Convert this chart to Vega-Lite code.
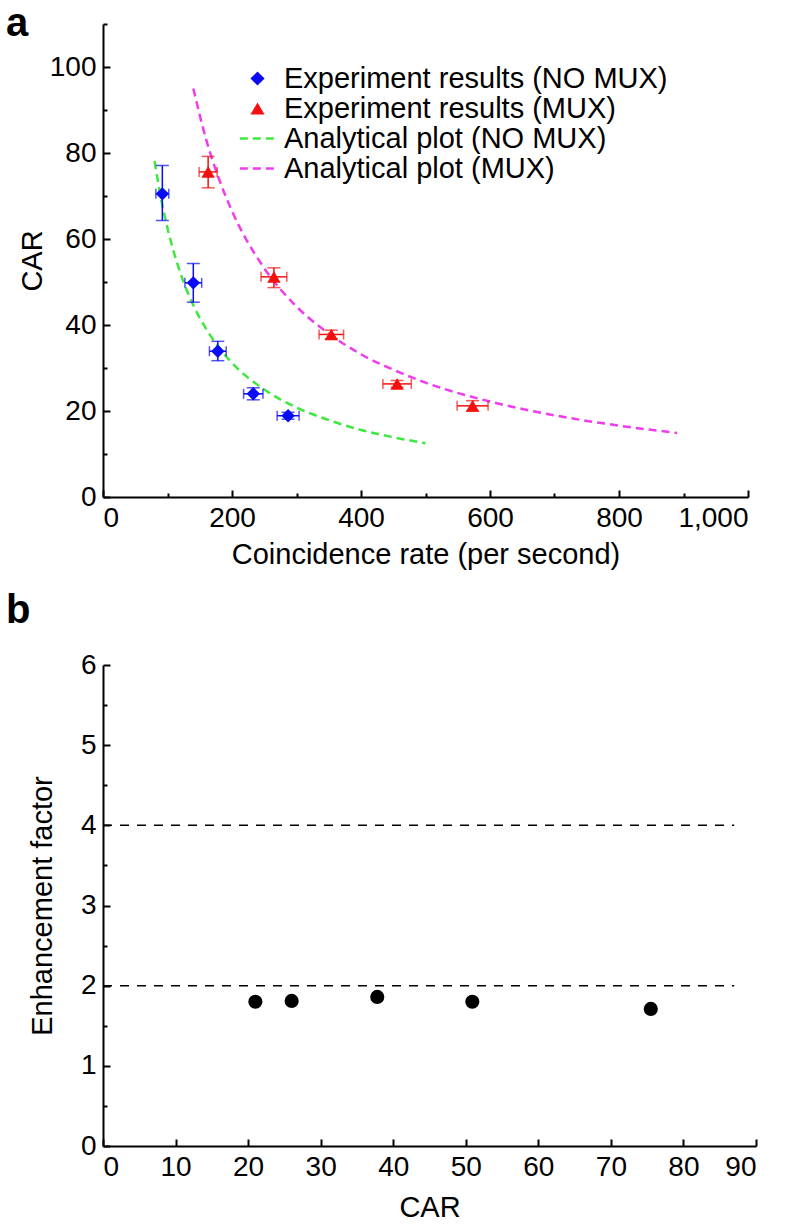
{
  "$schema": "https://vega.github.io/schema/vega-lite/v6.json",
  "background": "white",
  "padding": {"left": 6, "top": 4, "right": 5, "bottom": 5},
  "spacing": 22,
  "config": {
    "view": {"stroke": null},
    "font": "Liberation Sans",
    "axis": {
      "grid": false,
      "domainColor": "black",
      "domainWidth": 2,
      "tickColor": "black",
      "tickWidth": 2,
      "labelFont": "Liberation Sans",
      "labelFontSize": 28,
      "labelColor": "black",
      "titleFont": "Liberation Sans",
      "titleFontSize": 29,
      "titleFontWeight": "normal",
      "titleColor": "black"
    },
    "title": {"font": "Liberation Sans", "fontWeight": "bold", "fontSize": 40, "color": "black", "anchor": "start", "frame": "group"}
  },
  "datasets": {
    "curves": [
      {"series": "Analytical plot (NO MUX)", "rate": 80, "car": 78.1},
      {"series": "Analytical plot (NO MUX)", "rate": 90, "car": 69.4},
      {"series": "Analytical plot (NO MUX)", "rate": 100, "car": 62.5},
      {"series": "Analytical plot (NO MUX)", "rate": 120, "car": 52.1},
      {"series": "Analytical plot (NO MUX)", "rate": 140, "car": 44.6},
      {"series": "Analytical plot (NO MUX)", "rate": 160, "car": 39.1},
      {"series": "Analytical plot (NO MUX)", "rate": 180, "car": 34.7},
      {"series": "Analytical plot (NO MUX)", "rate": 200, "car": 31.2},
      {"series": "Analytical plot (NO MUX)", "rate": 250, "car": 25.0},
      {"series": "Analytical plot (NO MUX)", "rate": 300, "car": 20.8},
      {"series": "Analytical plot (NO MUX)", "rate": 350, "car": 17.9},
      {"series": "Analytical plot (NO MUX)", "rate": 400, "car": 15.6},
      {"series": "Analytical plot (NO MUX)", "rate": 450, "car": 13.9},
      {"series": "Analytical plot (NO MUX)", "rate": 500, "car": 12.5},
      {"series": "Analytical plot (MUX)", "rate": 140, "car": 95.0},
      {"series": "Analytical plot (MUX)", "rate": 160, "car": 83.1},
      {"series": "Analytical plot (MUX)", "rate": 180, "car": 73.9},
      {"series": "Analytical plot (MUX)", "rate": 200, "car": 66.5},
      {"series": "Analytical plot (MUX)", "rate": 250, "car": 53.2},
      {"series": "Analytical plot (MUX)", "rate": 300, "car": 44.3},
      {"series": "Analytical plot (MUX)", "rate": 350, "car": 38.0},
      {"series": "Analytical plot (MUX)", "rate": 400, "car": 33.2},
      {"series": "Analytical plot (MUX)", "rate": 450, "car": 29.6},
      {"series": "Analytical plot (MUX)", "rate": 500, "car": 26.6},
      {"series": "Analytical plot (MUX)", "rate": 600, "car": 22.2},
      {"series": "Analytical plot (MUX)", "rate": 700, "car": 19.0},
      {"series": "Analytical plot (MUX)", "rate": 800, "car": 16.6},
      {"series": "Analytical plot (MUX)", "rate": 890, "car": 14.9}
    ],
    "experiments": [
      {"series": "Experiment results (NO MUX)", "rate": 92, "car": 70.5, "rlo": 82, "rhi": 102, "clo": 64.3, "chi": 77.1},
      {"series": "Experiment results (NO MUX)", "rate": 140, "car": 49.8, "rlo": 127, "rhi": 153, "clo": 45.3, "chi": 54.3},
      {"series": "Experiment results (NO MUX)", "rate": 178, "car": 33.9, "rlo": 165, "rhi": 191, "clo": 31.7, "chi": 36.2},
      {"series": "Experiment results (NO MUX)", "rate": 233, "car": 24.0, "rlo": 218, "rhi": 248, "clo": 22.6, "chi": 25.4},
      {"series": "Experiment results (NO MUX)", "rate": 287, "car": 18.9, "rlo": 270, "rhi": 304, "clo": 18.1, "chi": 19.7},
      {"series": "Experiment results (MUX)", "rate": 163, "car": 75.6, "rlo": 149, "rhi": 177, "clo": 71.9, "chi": 79.2},
      {"series": "Experiment results (MUX)", "rate": 265, "car": 51.2, "rlo": 245, "rhi": 285, "clo": 48.7, "chi": 53.3},
      {"series": "Experiment results (MUX)", "rate": 354, "car": 37.8, "rlo": 335, "rhi": 373, "clo": 36.8, "chi": 38.8},
      {"series": "Experiment results (MUX)", "rate": 456, "car": 26.3, "rlo": 434, "rhi": 478, "clo": 25.5, "chi": 27.1},
      {"series": "Experiment results (MUX)", "rate": 573, "car": 21.2, "rlo": 549, "rhi": 597, "clo": 20.0, "chi": 22.4}
    ],
    "enhancement": [
      {"car": 21.0, "factor": 1.80},
      {"car": 26.0, "factor": 1.81},
      {"car": 37.8, "factor": 1.86},
      {"car": 50.9, "factor": 1.80},
      {"car": 75.5, "factor": 1.71}
    ],
    "limits": [
      {"factor": 2, "start": 0, "end": 87},
      {"factor": 4, "start": 0, "end": 87}
    ]
  },
  "vconcat": [
    {
      "width": 645,
      "height": 473,
      "title": {"text": "a", "dx": -97, "offset": -21},
      "layer": [
        {
          "data": {"name": "curves"},
          "mark": {"type": "line", "strokeWidth": 2.5, "strokeDash": [8, 5], "interpolate": "monotone", "clip": true},
          "encoding": {
            "x": {"field": "rate", "type": "quantitative", "scale": {"domain": [0, 1000], "nice": false},
              "axis": {"title": "Coincidence rate (per second)", "values": [0, 100, 200, 300, 400, 500, 600, 700, 800, 900, 1000], "format": ",d",
                "labelExpr": "datum.value % 200 === 0 ? datum.label : ''",
                "tickSize": {"condition": {"test": "datum.value % 200 === 0", "value": -7}, "value": -4},
                "labelPadding": 14, "titlePadding": 8}},
            "y": {"field": "car", "type": "quantitative", "scale": {"domain": [0, 110], "nice": false},
              "axis": {"title": "CAR", "values": [0, 10, 20, 30, 40, 50, 60, 70, 80, 90, 100, 110], "format": "d",
                "labelExpr": "datum.value % 20 === 0 && datum.value <= 100 ? datum.label : ''",
                "tickSize": {"condition": {"test": "datum.value % 20 === 0", "value": -7}, "value": -4},
                "labelPadding": 14, "titlePadding": 2}},
            "color": {"field": "series", "type": "nominal",
              "scale": {"domain": ["Experiment results (NO MUX)", "Experiment results (MUX)", "Analytical plot (NO MUX)", "Analytical plot (MUX)"],
                "range": ["#0a0af5", "#f51010", "#3ee83e", "#ee3cee"]},
              "legend": {"title": null, "orient": "none", "legendX": 140, "legendY": 40,
                "labelFontSize": 29, "labelFont": "Liberation Sans", "labelColor": "black", "labelLimit": 0, "rowPadding": -4, "labelOffset": 12, "symbolSize": 200,
                "encode": {"symbols": {"update": {
                  "shape": {"signal": "datum.index == 0 ? 'diamond' : (datum.index == 1 ? 'triangle-up' : 'M-2.5,0L2.5,0')"},
                  "size": {"value": 200},
                  "strokeDash": {"signal": "datum.index < 2 ? [1, 0] : [8, 5]"},
                  "fill": {"signal": "datum.index < 2 ? scale('color', datum.value) : 'transparent'"},
                  "stroke": {"signal": "scale('color', datum.value)"},
                  "strokeWidth": {"signal": "datum.index < 2 ? 0 : 2.5"},
                  "opacity": {"value": 1}
                }}}}},
            "detail": {"field": "series"}
          }
        },
        {
          "data": {"name": "experiments"},
          "mark": {"type": "rule", "strokeWidth": 1.5},
          "encoding": {
            "x": {"field": "rlo", "type": "quantitative"},
            "x2": {"field": "rhi"},
            "y": {"field": "car", "type": "quantitative"},
            "color": {"field": "series", "type": "nominal"}
          }
        },
        {
          "data": {"name": "experiments"},
          "mark": {"type": "rule", "strokeWidth": 1.5},
          "encoding": {
            "x": {"field": "rate", "type": "quantitative"},
            "y": {"field": "clo", "type": "quantitative"},
            "y2": {"field": "chi"},
            "color": {"field": "series", "type": "nominal"}
          }
        },
        {
          "data": {"name": "experiments"},
          "mark": {"type": "tick", "orient": "vertical", "size": 10, "thickness": 1.5},
          "encoding": {
            "x": {"field": "rlo", "type": "quantitative"},
            "y": {"field": "car", "type": "quantitative"},
            "color": {"field": "series", "type": "nominal"}
          }
        },
        {
          "data": {"name": "experiments"},
          "mark": {"type": "tick", "orient": "vertical", "size": 10, "thickness": 1.5},
          "encoding": {
            "x": {"field": "rhi", "type": "quantitative"},
            "y": {"field": "car", "type": "quantitative"},
            "color": {"field": "series", "type": "nominal"}
          }
        },
        {
          "data": {"name": "experiments"},
          "mark": {"type": "tick", "orient": "horizontal", "size": 13, "thickness": 1.5},
          "encoding": {
            "x": {"field": "rate", "type": "quantitative"},
            "y": {"field": "clo", "type": "quantitative"},
            "color": {"field": "series", "type": "nominal"}
          }
        },
        {
          "data": {"name": "experiments"},
          "mark": {"type": "tick", "orient": "horizontal", "size": 13, "thickness": 1.5},
          "encoding": {
            "x": {"field": "rate", "type": "quantitative"},
            "y": {"field": "chi", "type": "quantitative"},
            "color": {"field": "series", "type": "nominal"}
          }
        },
        {
          "data": {"name": "experiments"},
          "mark": {"type": "point", "filled": true, "opacity": 1, "size": 180},
          "encoding": {
            "x": {"field": "rate", "type": "quantitative"},
            "y": {"field": "car", "type": "quantitative"},
            "color": {"field": "series", "type": "nominal"},
            "shape": {"field": "series", "type": "nominal",
              "scale": {"domain": ["Experiment results (NO MUX)", "Experiment results (MUX)"], "range": ["diamond", "triangle-up"]},
              "legend": null}
          }
        }
      ]
    },
    {
      "width": 653,
      "height": 481,
      "title": {"text": "b", "dx": -97, "offset": 20},
      "layer": [
        {
          "data": {"name": "limits"},
          "mark": {"type": "rule", "color": "black", "strokeWidth": 1.5, "strokeDash": [9, 8]},
          "encoding": {
            "x": {"field": "start", "type": "quantitative", "scale": {"domain": [0, 90], "nice": false},
              "axis": {"title": "CAR", "values": [0, 5, 10, 15, 20, 25, 30, 35, 40, 45, 50, 55, 60, 65, 70, 75, 80, 85, 90], "format": "d",
                "labelExpr": "datum.value % 10 === 0 ? datum.label : ''",
                "tickSize": {"condition": {"test": "datum.value % 10 === 0", "value": -7}, "value": -4},
                "labelPadding": 14, "titlePadding": 12}},
            "x2": {"field": "end"},
            "y": {"field": "factor", "type": "quantitative", "scale": {"domain": [0, 6], "nice": false},
              "axis": {"title": "Enhancement factor", "values": [0, 0.5, 1, 1.5, 2, 2.5, 3, 3.5, 4, 4.5, 5, 5.5, 6],
                "labelExpr": "datum.value % 1 === 0 ? format(datum.value, 'd') : ''",
                "tickSize": {"condition": {"test": "datum.value % 1 === 0", "value": -7}, "value": -4},
                "labelPadding": 14, "titlePadding": 23}}
          }
        },
        {
          "data": {"name": "enhancement"},
          "mark": {"type": "circle", "color": "black", "opacity": 1, "size": 200},
          "encoding": {
            "x": {"field": "car", "type": "quantitative"},
            "y": {"field": "factor", "type": "quantitative"}
          }
        }
      ]
    }
  ]
}
